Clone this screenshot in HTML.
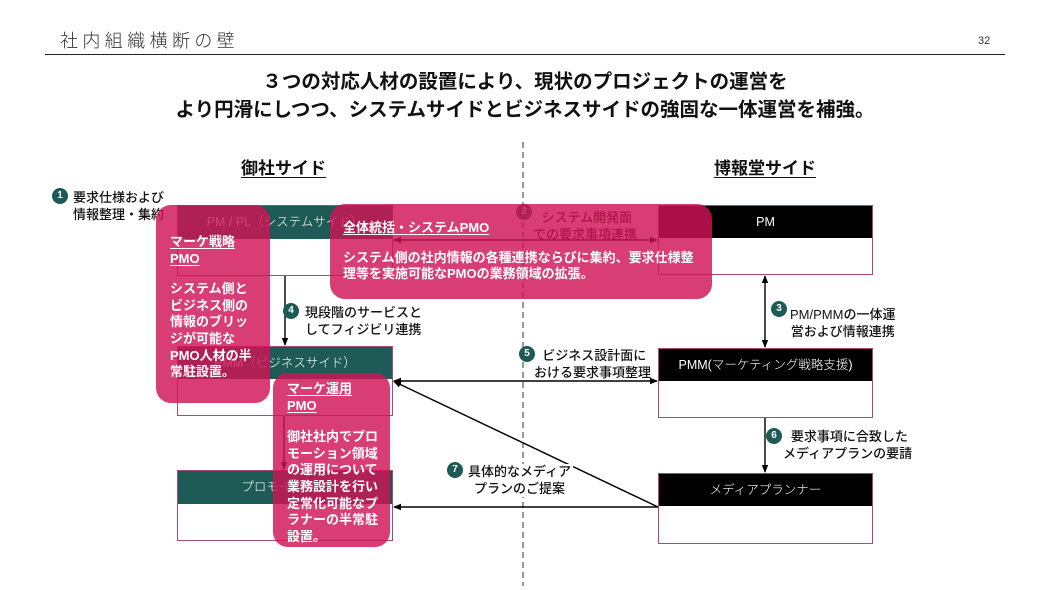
<!DOCTYPE html>
<html><head><meta charset="utf-8">
<style>
*{margin:0;padding:0;box-sizing:border-box}
body{width:1050px;height:590px;background:#fff;position:relative;overflow:hidden;font-family:"Liberation Sans","Noto Sans CJK JP",sans-serif;color:#111}
.a{position:absolute;white-space:nowrap}
.title{left:60px;top:27px;font-size:18px;letter-spacing:4.4px;font-weight:300;color:#333}
.pg{left:978px;top:35px;font-size:11px;color:#333}
.rule{left:45px;top:54px;width:960px;height:1px;background:#222}
.head{left:0;width:1050px;text-align:center;font-size:19.5px;font-weight:bold;line-height:28px}
.side{font-size:17px;font-weight:bold;text-decoration:underline;text-underline-offset:3px;line-height:22px}
.box{position:absolute;border:1.3px solid #a84a72;background:#fff}
.box .h{position:absolute;left:0;top:0;right:0;color:#fff;font-size:12.5px;text-align:center;font-weight:300}
.teal{background:#1e5b56}
.blk{background:#000}
.lbl{position:absolute;font-size:13px;line-height:16.5px;font-weight:500;color:#111;white-space:nowrap;background:#fff}
.num{position:absolute;width:16px;height:16px;border-radius:50%;background:#1e5a55;color:#fff;font-size:10px;font-weight:bold;text-align:center;line-height:16px}
.ov{position:absolute;background:rgba(208,20,85,0.82);border-radius:15px;color:#fff;font-size:13px;font-weight:bold;line-height:16.6px;white-space:nowrap}
.ov u{text-underline-offset:2px}
</style></head><body>
<div class="a title">社内組織横断の壁</div>
<div class="a pg">32</div>
<div class="a rule"></div>
<div class="a head" style="top:68px">３つの対応人材の設置により、現状のプロジェクトの運営を</div>
<div class="a head" style="top:96px">より円滑にしつつ、システムサイドとビジネスサイドの強固な一体運営を補強。</div>
<div class="a side" style="left:241px;top:158px">御社サイド</div>
<div class="a side" style="left:714px;top:158px">博報堂サイド</div>

<svg class="a" style="left:0;top:0" width="1050" height="590">
<defs>
<marker id="ar" markerWidth="8" markerHeight="8" refX="7" refY="4" orient="auto" markerUnits="userSpaceOnUse"><path d="M0,0.8 L8,4 L0,7.2 Z" fill="#000"/></marker>
<marker id="al" markerWidth="8" markerHeight="8" refX="1" refY="4" orient="auto" markerUnits="userSpaceOnUse"><path d="M8,0.8 L0,4 L8,7.2 Z" fill="#000"/></marker>
</defs>
<line x1="523" y1="142" x2="523" y2="586" stroke="#555" stroke-width="1.2" stroke-dasharray="6,4"/>
</svg>

<!-- boxes -->
<div class="box" style="left:177px;top:205px;width:216px;height:71px"><div class="h teal" style="height:33px;line-height:33px">PM / PL（システムサイド）</div></div>
<div class="box" style="left:177px;top:346px;width:216px;height:70px"><div class="h teal" style="height:32px;line-height:32px">PMM（ビジネスサイド）</div></div>
<div class="box" style="left:177px;top:470px;width:216px;height:71px"><div class="h teal" style="height:33px;line-height:33px">プロモーション</div></div>
<div class="box" style="left:658px;top:205px;width:215px;height:70px"><div class="h blk" style="height:32px;line-height:32px">PM</div></div>
<div class="box" style="left:658px;top:348px;width:215px;height:70px"><div class="h blk" style="height:32px;line-height:32px">PMM(マーケティング戦略支援)</div></div>
<div class="box" style="left:658px;top:473px;width:215px;height:71px"><div class="h blk" style="height:32px;line-height:32px">メディアプランナー</div></div>

<svg class="a" style="left:0;top:0" width="1050" height="590">
<g stroke="#000" stroke-width="1.4" fill="none">
<line x1="394" y1="240" x2="657" y2="240" marker-start="url(#al)" marker-end="url(#ar)"/>
<line x1="285" y1="276" x2="285" y2="345" marker-end="url(#ar)"/>
<line x1="765" y1="276" x2="765" y2="347" marker-start="url(#al)" marker-end="url(#ar)"/>
<line x1="394" y1="381" x2="657" y2="381" marker-start="url(#al)" marker-end="url(#ar)"/>
<line x1="658" y1="507" x2="394" y2="381.5" marker-end="url(#ar)"/>
<line x1="658" y1="507" x2="394" y2="507" marker-end="url(#ar)"/>
<line x1="765" y1="418" x2="765" y2="472" marker-end="url(#ar)"/>
<line x1="284" y1="416" x2="284" y2="469" marker-end="url(#ar)"/>
</g>
</svg>

<!-- labels -->
<div class="num" style="left:52px;top:188px">1</div>
<div class="lbl" style="left:73px;top:190px;background:none">要求仕様および<br>情報整理・集約</div>
<div class="num" style="left:516px;top:204px">2</div>
<div class="lbl" style="left:533px;top:210px;text-align:center;background:none">&nbsp;システム開発面<br>での要求事項連携</div>
<div class="num" style="left:771px;top:301px">3</div>
<div class="lbl" style="left:790px;top:307px;text-align:center;background:none">PM/PMMの一体運<br>営および情報連携</div>
<div class="num" style="left:283px;top:303px">4</div>
<div class="lbl" style="left:305px;top:305px;background:none">現段階のサービスと<br>してフィジビリ連携</div>
<div class="num" style="left:519px;top:346px">5</div>
<div class="lbl" style="left:534px;top:348px;text-align:center;background:none">&nbsp;ビジネス設計面に<br>おける要求事項整理</div>
<div class="num" style="left:766px;top:428px">6</div>
<div class="lbl" style="left:783px;top:429px;text-align:center;background:none">&nbsp;要求事項に合致した<br>メディアプランの要請</div>
<div class="num" style="left:447px;top:462px">7</div>
<div class="lbl" style="left:466px;top:464px;text-align:center;padding:0 2px">具体的なメディア<br>プランのご提案</div>

<!-- overlays -->
<div class="ov" style="left:156px;top:205px;width:114px;height:198px;padding:29px 0 0 14px">
<u>マーケ戦略</u><br><u>PMO</u><br><div style="height:14px"></div>システム側と<br>ビジネス側の<br>情報のブリッ<br>ジが可能な<br>PMO人材の半<br>常駐設置。
</div>
<div class="ov" style="left:330px;top:204px;width:382px;height:95px;padding:16px 0 0 13px">
<u>全体統括・システムPMO</u><div style="height:13px"></div>システム側の社内情報の各種連携ならびに集約、要求仕様整<br>理等を実施可能なPMOの業務領域の拡張。
</div>
<div class="ov" style="left:273px;top:373px;width:117px;height:174px;padding:8px 0 0 14px">
<u>マーケ運用</u><br><u>PMO</u><br><div style="height:15px"></div>御社社内でプロ<br>モーション領域<br>の運用について<br>業務設計を行い<br>定常化可能なプ<br>ラナーの半常駐<br>設置。
</div>
</body></html>
